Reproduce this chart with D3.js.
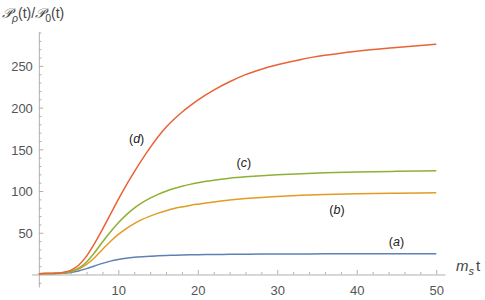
<!DOCTYPE html>
<html>
<head>
<meta charset="utf-8">
<script src="https://cdn.jsdelivr.net/npm/d3@7"></script>
<style>
  html, body { margin: 0; padding: 0; background: #fff; }
  svg { display: block; }
  text { font-family: "Liberation Sans", Arial, sans-serif; }
</style>
</head>
<body>
<svg id="chart" width="485" height="300"></svg>
<script>
// ---- data ----
const tValues = [0,1,2,3,4,5,6,7,8,9,10,11,12,13,14,15,16,17,18,19,20,22,24,26,28,30,33,36,40,45,50];
const seriesA = [1,1.05,1.2,1.6,2.5,4.3,7,10.2,13.3,16,18,19.5,20.6,21.4,22,22.4,22.8,23.1,23.35,23.55,23.7,23.95,24.15,24.3,24.45,24.55,24.65,24.75,24.85,24.95,25];
const seriesB = [1,1.05,1.3,1.9,3.2,6.5,12,20,30,39.5,48,55,61,66,70,73.5,76.5,79,81,82.8,84.3,87,89.2,91,92.4,93.5,94.9,95.9,96.8,97.5,98];
const seriesC = [1,1.05,1.3,2,3.5,7.5,15,26,39,51,62,71.5,79.5,86,91.5,96,99.8,103,105.7,108,110,113,115.3,117,118.4,119.5,120.8,121.8,122.8,123.6,124.2];
const seriesD = [1,1.1,1.5,2.5,5,11,22,37,54,72,90,107,123,138,152,165,176.5,186,194.5,202,209,221,231,239.5,246,251.3,257.8,262.7,267.6,272.1,276];
const seriesNames = ["a","b","c","d"];
const seriesColors = ["#5E81B5","#E19C24","#8FB032","#EB6235"];
const xMajorTicks = [10,20,30,40,50];
const yMajorTicks = [50,100,150,200,250];
// label anchor values (data coords)
const labelT = [45, 37.5, 25.8, 12.3];
const labelV = [34, 72, 129, 157];

const series = [seriesA, seriesB, seriesC, seriesD];

const svg = d3.select("#chart");
const x = d3.scaleLinear().domain([-0.9, 51.1]).range([31.7, 445]);
const y = d3.scaleLinear().domain([-15, 291]).range([287, 31.7]);
const x0 = x(0), y0 = y(0);
const axisColor = "#b0b0b0";

// x axis
const xAxis = d3.axisBottom(x)
  .tickValues(d3.range(2, 51, 2))
  .tickSize(0)
  .tickFormat("");
const gx = svg.append("g").attr("transform", `translate(0,${y0})`).call(xAxis);
gx.select(".domain").attr("stroke", axisColor);
gx.selectAll(".tick line").remove();
gx.selectAll(".tick").append("line")
  .attr("y1", 0)
  .attr("y2", d => xMajorTicks.includes(d) ? -4.5 : -2.6)
  .attr("stroke", axisColor);
gx.selectAll(".tick").filter(d => xMajorTicks.includes(d)).append("text")
  .attr("y", 21).attr("fill", "#555").attr("font-size", 13)
  .attr("text-anchor", "middle").text(d => d);

// y axis
const yAxis = d3.axisLeft(y)
  .tickValues(d3.range(-10, 291, 10).filter(v => v !== 0))
  .tickSize(0)
  .tickFormat("");
const gy = svg.append("g").attr("transform", `translate(${x0},0)`).call(yAxis);
gy.select(".domain").attr("stroke", axisColor);
gy.selectAll(".tick line").remove();
gy.selectAll(".tick").append("line")
  .attr("x1", 0)
  .attr("x2", d => yMajorTicks.includes(d) ? 4.5 : 2.6)
  .attr("stroke", axisColor);
gy.selectAll(".tick").filter(d => yMajorTicks.includes(d)).append("text")
  .attr("x", -6).attr("dy", "0.36em").attr("fill", "#555").attr("font-size", 13)
  .attr("text-anchor", "end").text(d => d);

// lines
const line = d3.line()
  .x((d, i) => x(tValues[i]))
  .y(d => y(d))
  .curve(d3.curveMonotoneX);
svg.append("g").selectAll("path").data(series).join("path")
  .attr("d", d => line(d))
  .attr("fill", "none")
  .attr("stroke", (d, i) => seriesColors[i])
  .attr("stroke-width", 1.5);

// curve labels
const lbl = svg.append("g").selectAll("text").data(seriesNames).join("text")
  .attr("x", (d, i) => x(labelT[i]))
  .attr("y", (d, i) => y(labelV[i]))
  .attr("font-size", 12.5)
  .attr("fill", "#222")
  .attr("text-anchor", "middle");
lbl.append("tspan").text("(");
lbl.append("tspan").attr("font-style", "italic").text(d => d);
lbl.append("tspan").text(")");

// y-axis title
const title = svg.append("text").attr("x", 2).attr("y", 18)
  .attr("font-size", 14).attr("fill", "#444");
title.append("tspan").attr("font-style", "italic").text("𝒫");
title.append("tspan").attr("font-size", 10.5).attr("font-style", "italic").attr("dy", 4).text("ρ");
title.append("tspan").attr("dy", -4).text("(t)/");
title.append("tspan").attr("font-style", "italic").text("𝒫");
title.append("tspan").attr("font-size", 10.5).attr("dy", 4).text("0");
title.append("tspan").attr("dy", -4).text("(t)");

// x-axis title
const xt = svg.append("text").attr("x", 456).attr("y", 271)
  .attr("font-size", 15).attr("fill", "#444");
xt.append("tspan").attr("font-style", "italic").text("m");
xt.append("tspan").attr("font-size", 11).attr("font-style", "italic").attr("dy", 4).text("s");
xt.append("tspan").attr("dy", -4).attr("dx", 2).text("t");
</script>
</body>
</html>
